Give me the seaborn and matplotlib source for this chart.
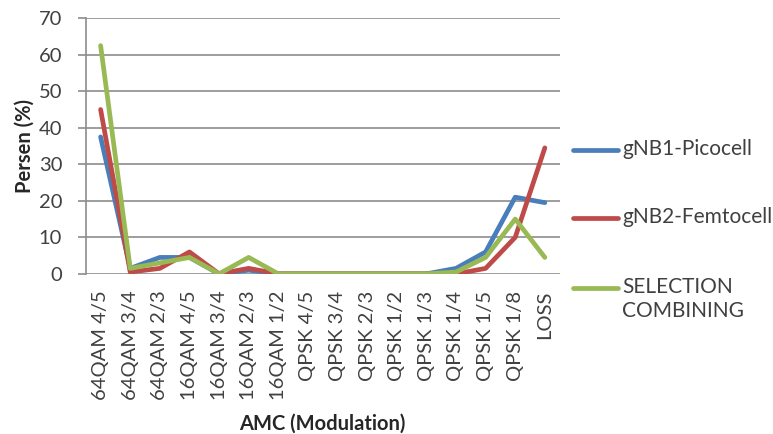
import pandas as pd
import matplotlib.pyplot as plt
from matplotlib.lines import Line2D
import seaborn as sns

# data
categories = ["64QAM 4/5", "64QAM 3/4", "64QAM 2/3", "16QAM 4/5", "16QAM 3/4",
              "16QAM 2/3", "16QAM 1/2", "QPSK 4/5", "QPSK 3/4", "QPSK 2/3",
              "QPSK 1/2", "QPSK 1/3", "QPSK 1/4", "QPSK 1/5", "QPSK 1/8", "LOSS"]
pico  = [37.5, 1.5, 4.5, 4.5, 0, 1.0, 0, 0, 0, 0, 0, 0, 1.5, 6.0, 21.0, 19.5]
femto = [45.0, 0.5, 1.5, 6.0, 0, 1.5, 0, 0, 0, 0, 0, 0, 0.0, 1.5, 10.0, 34.5]
sc    = [62.5, 1.5, 3.0, 4.5, 0, 4.5, 0, 0, 0, 0, 0, 0, 0.5, 4.5, 15.0, 4.5]
series_names = ["gNB1-Picocell", "gNB2-Femtocell", "SELECTION\nCOMBINING"]
colors = ["#4a7ebb", "#be4b48", "#98b954"]

df = pd.DataFrame({"AMC": categories, series_names[0]: pico,
                   series_names[1]: femto, series_names[2]: sc})
long = df.melt(id_vars="AMC", var_name="series", value_name="val")
long["x"] = long["AMC"].map({c: i for i, c in enumerate(categories)})

sns.set_theme(style="white")
plt.rcParams["font.family"] = ["Lato", "DejaVu Sans"]
TXT = "#404040"
FS = 14.5

fig = plt.figure(figsize=(7.73, 4.34), dpi=100)
ax = fig.add_axes([0.111, 0.369, 0.613, 0.589])
sns.lineplot(data=long, x="x", y="val", hue="series", hue_order=series_names,
             palette=colors, linewidth=3.4, ax=ax, legend=False)

ax.set_xlim(-0.5, len(categories) - 0.5)
ax.set_ylim(0, 70)
ax.set_yticks(range(0, 71, 10))
ax.set_xticks(range(len(categories)))
ax.set_xticklabels(categories, rotation=90, fontsize=FS, color=TXT)
ax.tick_params(axis="y", labelsize=FS, labelcolor=TXT, left=True, length=6,
               width=1.2, color="#8c8c8c", pad=11)
ax.tick_params(axis="x", length=0, pad=12)
ax.yaxis.grid(True, color="#8c8c8c", linewidth=1.2)
ax.set_axisbelow(True)
for s in ["top", "right", "bottom"]:
    ax.spines[s].set_visible(False)
ax.spines["left"].set_color("#8c8c8c")
ax.spines["left"].set_linewidth(1.2)
ax.set_xlabel("AMC (Modulation)", fontsize=FS, fontweight="bold", color="#262626", labelpad=10)
ax.set_ylabel("Persen (%)", fontsize=FS, fontweight="bold", color="#262626", labelpad=3)

# legend on the right, drawn by hand so the handle sits on the first text line
leg_y = [150, 218, 288]
for c, name, y in zip(colors, series_names, leg_y):
    yf = 1 - y / 434
    fig.add_artist(Line2D([573 / 773, 618 / 773], [yf, yf], color=c, linewidth=3.4,
                          solid_capstyle="round", transform=fig.transFigure))
    fig.text(622 / 773, yf + 11 / 434, name, fontsize=FS + 0.5, color=TXT,
             va="top", ha="left", linespacing=1.25)

plt.savefig("out.png", dpi=100)
